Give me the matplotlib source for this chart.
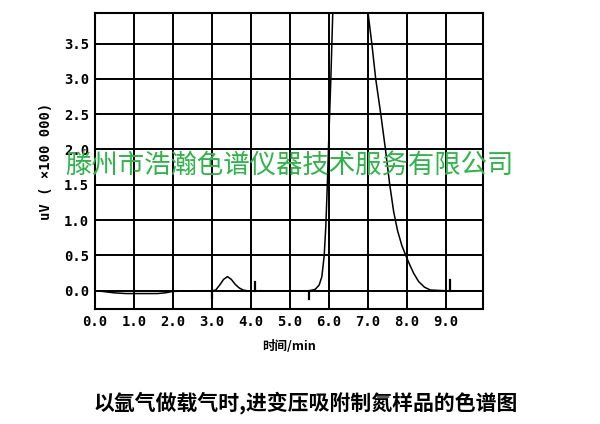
import matplotlib.pyplot as plt
import numpy as np

plt.rcParams['font.family'] = ['Noto Sans CJK SC', 'DejaVu Sans']

# 色谱图数据 (时间 min, 信号 ×100 000 uV)
tempo = [0.0, 0.2, 0.5, 0.8, 1.2, 1.6, 1.8, 2.0, 2.5, 3.0, 3.1, 3.2, 3.3, 3.4,
         3.5, 3.6, 3.7, 3.8, 3.9, 4.5, 5.0, 5.5, 5.65, 5.75, 5.82, 5.88, 5.92,
         5.96, 6.0, 6.05, 6.1, 6.2, 6.5, 6.8, 7.0, 7.1, 7.2, 7.33, 7.45, 7.56,
         7.66, 7.76, 7.87, 7.97, 8.07, 8.17, 8.3, 8.45, 8.6, 9.0, 9.5, 9.95]
sinal = [0.0, -0.01, -0.03, -0.04, -0.04, -0.04, -0.03, -0.01, 0.0, 0.0, 0.01,
         0.08, 0.16, 0.2, 0.16, 0.09, 0.04, 0.01, 0.0, 0.0, 0.0, 0.0, 0.02,
         0.08, 0.2, 0.5, 0.9, 1.5, 2.2, 3.0, 3.95, 4.6, 5.0, 4.6, 3.95, 3.5,
         3.0, 2.5, 2.0, 1.5, 1.12, 0.85, 0.64, 0.5, 0.37, 0.25, 0.13, 0.05,
         0.01, 0.0, 0.0, 0.0]

# 事件标记
marca_x = [3.0, 4.1, 5.5, 9.1]
marca_y = [-0.1, 0.12, -0.12, 0.15]

x_ticks = np.arange(0, 10, 1.0)
y_ticks = np.arange(0, 4.0, 0.5)

fig = plt.figure(figsize=(6, 4.24), dpi=100)
ax = fig.add_axes([0.158, 0.271, 0.647, 0.698])

ax.plot(tempo, sinal, color='black', lw=1.1)
for mx, my in zip(marca_x, marca_y):
    ax.plot([mx, mx], [0, my], color='black', lw=1.6)

ax.set_xlim(0, 9.95)
ax.set_ylim(-0.26, 3.93)
ax.set_xticks(x_ticks)
ax.set_yticks(y_ticks)
ax.set_xticklabels([f'{v:.1f}' for v in x_ticks], family='DejaVu Sans Mono',
                   fontweight='bold', fontsize=10)
ax.set_yticklabels([f'{v:.1f}' for v in y_ticks], family='DejaVu Sans Mono',
                   fontweight='bold', fontsize=10)
ax.tick_params(length=0, pad=4)
ax.grid(True, color='black', lw=1.4)
ax.set_axisbelow(True)
for s in ax.spines.values():
    s.set_linewidth(1.5)

ax.set_ylabel('uV ( ×100 000)', family='DejaVu Sans Mono', fontweight='bold',
              fontsize=10, labelpad=8)
ax.set_xlabel('时间/min', fontweight='bold', fontsize=9, labelpad=8)

fig.text(0.51, 0.05, '以氩气做载气时,进变压吸附制氮样品的色谱图',
         ha='center', va='center', fontsize=15, fontweight='bold')

# 水印
fig.text(0.483, 0.611, '滕州市浩瀚色谱仪器技术服务有限公司', ha='center',
         va='center', fontsize=19, color='#2fb44a')

fig.savefig('out.png', dpi=100)
